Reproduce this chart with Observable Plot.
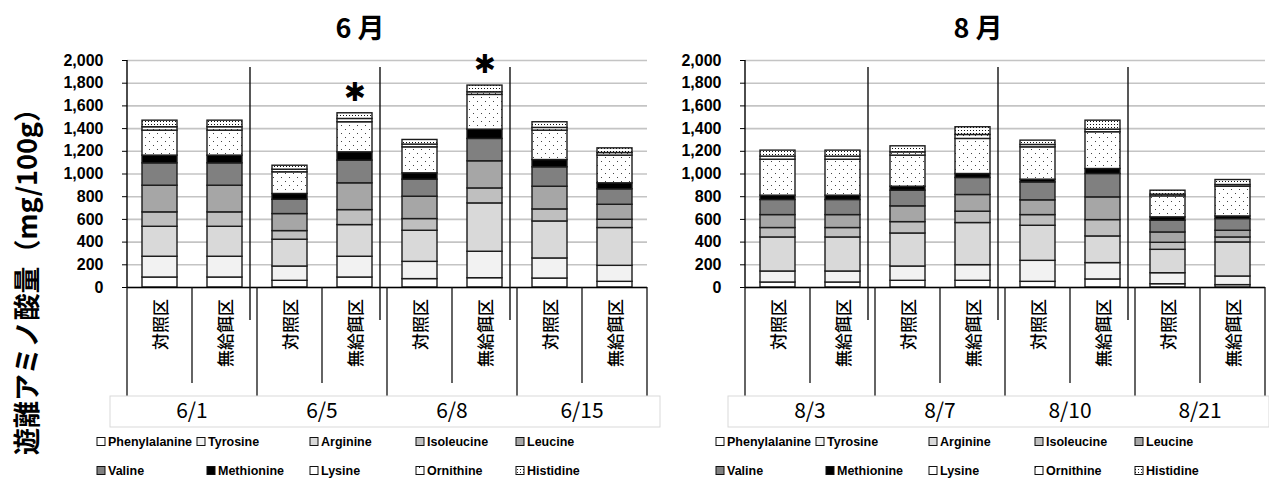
<!DOCTYPE html>
<html><head><meta charset="utf-8">
<script src="https://cdn.jsdelivr.net/npm/d3@7"></script>
<script src="https://cdn.jsdelivr.net/npm/@observablehq/plot@0.6"></script>
<style>
html,body{margin:0;padding:0;background:#fff;}
#root{position:relative;width:1269px;height:479px;overflow:hidden;background:#fff;}
.panel{position:absolute;top:0;}
#overlay{position:absolute;left:0;top:0;pointer-events:none;}
</style></head><body>
<div id="root"></div>
<script>
// ---------------- data ----------------
const months = ["6 月", "8 月"];
const dates6 = ["6/1", "6/5", "6/8", "6/15"];
const dates8 = ["8/3", "8/7", "8/10", "8/21"];
const treatments = ["対照区", "無給餌区"];
const aminoAcids = ["Phenylalanine","Tyrosine","Arginine","Isoleucine","Leucine","Valine","Methionine","Lysine","Ornithine","Histidine"];
// bar order: 6/1 対照, 6/1 無給餌, 6/5 ..., 6/15, then 8/3 ... 8/21
const phenylalanine = [88,88,59,88,74,82,79,50, 44,44,59,59,50,71,29,21];
const tyrosine      = [183,183,126,183,152,233,177,141, 97,97,126,138,185,144,97,76];
const arginine      = [264,264,236,279,274,426,326,333, 300,300,291,371,309,235,206,300];
const isoleucine    = [127,127,76,132,103,132,106,73, 83,83,100,100,94,144,62,44];
const leucine       = [235,235,150,236,197,239,200,132, 114,114,139,147,130,200,91,59];
const valine        = [197,197,126,200,150,197,171,136, 133,133,138,150,158,206,103,103];
const methionine    = [68,68,51,73,56,82,64,53, 38,38,35,35,24,44,30,23];
const lysine        = [220,220,191,265,229,306,259,244, 317,317,274,309,285,324,185,262];
const ornithine     = [30,30,23,29,24,23,24,23, 27,27,29,35,21,23,15,15];
const histidine     = [58,58,35,50,41,59,50,41, 53,53,53,68,38,79,35,44];
const significant   = [false,false,false,true,false,true,false,false, false,false,false,false,false,false,false,false];
const yTicks = [0,200,400,600,800,1000,1200,1400,1600,1800,2000];
const yTitle = "遊離アミノ酸量（mg/100g）";

const series = [phenylalanine, tyrosine, arginine, isoleucine, leucine, valine, methionine, lysine, ornithine, histidine];

// ---------------- styles ----------------
const fills = {
  Phenylalanine: "#ffffff", Tyrosine: "#f2f2f2", Arginine: "#d9d9d9", Isoleucine: "#bfbfbf",
  Leucine: "#a6a6a6", Valine: "#808080", Methionine: "#000000",
  Lysine: "url(#patLys)", Ornithine: "url(#patOrn)", Histidine: "url(#patHis)"
};
const jp = "'Noto Sans CJK JP', 'Noto Sans', sans-serif";
const latin = "'Liberation Sans', Arial, sans-serif";

const root = d3.select("#root");

// pattern definitions (shared document-wide)
const defsSvg = root.append("svg").attr("width", 0).attr("height", 0).style("position", "absolute");
const defs = defsSvg.append("defs");
function pattern(id, w, h, dots, color) {
  const p = defs.append("pattern").attr("id", id).attr("patternUnits", "userSpaceOnUse").attr("width", w).attr("height", h);
  p.append("rect").attr("width", w).attr("height", h).attr("fill", "#fff");
  dots.forEach(([x, y]) => p.append("rect").attr("x", x).attr("y", y).attr("width", 1).attr("height", 1).attr("fill", color));
}
pattern("patLys", 8, 8, [[1, 1], [5, 5]], "#444");
pattern("patOrn", 6, 6, [[3, 3]], "#444");
pattern("patHis", 3, 3, [[1, 1]], "#111");

const panels = [
  {dates: dates6, offset: 0, left: 0, width: 660, ml: 127, mr: 13, boxLeft: 110, boxRight: 660},
  {dates: dates8, offset: 8, left: 618, width: 651, ml: 127, mr: 4, boxLeft: 110, boxRight: 651}
];

function drawPanel(p) {
  const keys = p.dates.flatMap(d => treatments.map(t => d + "|" + t));
  const rows = keys.flatMap((k, j) => aminoAcids.map((aa, a) => ({key: k, aa, value: series[a][p.offset + j]})));
  const totals = keys.map((k, j) => ({key: k, total: d3.sum(series, s => s[p.offset + j]), sig: significant[p.offset + j]}));
  const chart = Plot.plot({
    width: p.width, height: 430,
    marginLeft: p.ml, marginRight: p.mr, marginTop: 60, marginBottom: 143,
    style: {background: "transparent", overflow: "visible", fontFamily: latin, fontSize: "16px", fontWeight: "bold", color: "#000"},
    x: {domain: keys, paddingInner: 0.46, paddingOuter: 0.23, axis: null},
    y: {domain: [0, 2000], ticks: yTicks, tickFormat: d3.format(","), tickSize: 5, tickPadding: 19, label: null},
    color: {type: "identity"},
    marks: [
      Plot.ruleY(yTicks, {stroke: "#c4c4c4", strokeWidth: 1.6}),
      Plot.barY(rows, {x: "key", y: "value", fill: d => fills[d.aa], stroke: "#1c1c1c", strokeWidth: 1.4}),
      Plot.ruleY([0], {stroke: "#000", strokeWidth: 1.4}),
      Plot.text(totals.filter(d => d.sig), {x: "key", y: "total", text: () => "✱", fontSize: 26, fontWeight: "bold", fontFamily: "'DejaVu Sans', sans-serif", dy: -21})
    ]
  });
  const div = root.append("div").attr("class", "panel").style("left", p.left + "px");
  div.node().appendChild(chart);

  const svg = d3.select(chart);
  const xs = chart.scale("x"), ys = chart.scale("y");
  const bw = xs.bandwidth, step = xs.step;
  const y0 = ys.apply(0), yTop = ys.apply(2000);
  const cellLeft = j => xs.apply(keys[j]) - (step - bw) / 2;
  const g = svg.append("g");
  // y axis line
  g.append("line").attr("x1", xs.range[0]).attr("x2", xs.range[0]).attr("y1", yTop).attr("y2", y0)
    .attr("stroke", "#000").attr("stroke-width", 1.4);
  // group separators inside plot
  for (let j = 2; j < keys.length; j += 2) {
    const x = cellLeft(j) - 7;
    g.append("line").attr("x1", x).attr("x2", x).attr("y1", yTop + 7).attr("y2", y0 + 33)
      .attr("stroke", "#111").attr("stroke-width", 1.4);
  }
  // category table
  for (let j = 0; j <= keys.length; j++) {
    const x = j < keys.length ? cellLeft(j) : cellLeft(keys.length - 1) + step;
    const bottom = j % 2 === 0 ? y0 + 109 : y0 + 96;
    g.append("line").attr("x1", x).attr("x2", x).attr("y1", y0).attr("y2", bottom)
      .attr("stroke", "#111").attr("stroke-width", 1.3);
  }
  keys.forEach((k, j) => {
    const cx = xs.apply(k) + bw / 2, cy = y0 + 12;
    g.append("text").attr("x", cx).attr("y", cy)
      .attr("transform", `rotate(-90,${cx},${cy})`)
      .attr("text-anchor", "end").attr("dominant-baseline", "central")
      .attr("font-family", jp).attr("font-size", 17).attr("font-weight", 500)
      .text(treatments[j % 2]);
  });
  g.append("rect").attr("x", p.boxLeft).attr("y", y0 + 109).attr("width", p.boxRight - p.boxLeft).attr("height", 31)
    .attr("fill", "none").attr("stroke", "#d9d9d9").attr("stroke-width", 1);
  p.dates.forEach((d, i) => {
    const cx = cellLeft(2 * i) + step;
    g.append("text").attr("x", cx).attr("y", y0 + 122).attr("text-anchor", "middle").attr("dominant-baseline", "central")
      .attr("font-family", jp).attr("font-size", 21).attr("font-weight", "normal").text(d);
  });
  return {xs, left: p.left};
}

const infos = panels.map(drawPanel);

// overlay: titles, y title, legend
const ov = root.append("svg").attr("id", "overlay").attr("width", 1269).attr("height", 479);
months.forEach((m, i) => {
  const xs = infos[i].xs;
  const cx = infos[i].left + (xs.range[0] + xs.range[1]) / 2 - 27;
  ov.append("text").attr("x", cx).attr("y", 26).attr("text-anchor", "middle").attr("dominant-baseline", "central")
    .attr("font-family", jp).attr("font-size", 27).attr("font-weight", "bold").text(m);
});
ov.append("text").attr("x", 25).attr("y", 275).attr("transform", "rotate(-90,25,275)")
  .attr("text-anchor", "middle").attr("dominant-baseline", "central")
  .attr("font-family", jp).attr("font-size", 27).attr("font-weight", "bold").text(yTitle);

const legendCols = [[97, 197, 310, 416, 516], [97, 207, 310, 416, 516]];
const legendRows = [442, 471];
const legendSwatch = {
  Phenylalanine: "#ffffff", Tyrosine: "#f2f2f2", Arginine: "#d9d9d9", Isoleucine: "#bfbfbf",
  Leucine: "#a6a6a6", Valine: "#808080", Methionine: "#000000",
  Lysine: "#ffffff", Ornithine: "url(#patOrnL)", Histidine: "url(#patHisL)"
};
pattern("patOrnL", 8, 8, [[3, 3]], "#222");
pattern("patHisL", 3, 3, [[1, 1]], "#222");
[0, 619].forEach(ox => {
  aminoAcids.forEach((aa, i) => {
    const r = Math.floor(i / 5), c = i % 5;
    const x = ox + legendCols[r][c], y = legendRows[r];
    ov.append("rect").attr("x", x).attr("y", y - 4.5).attr("width", 8).attr("height", 8)
      .attr("fill", legendSwatch[aa]).attr("stroke", "#111").attr("stroke-width", 1);
    ov.append("text").attr("x", x + 11).attr("y", y).attr("dominant-baseline", "central")
      .attr("font-family", latin).attr("font-size", 12.5).attr("font-weight", "bold").text(aa);
  });
});
</script>
</body></html>
